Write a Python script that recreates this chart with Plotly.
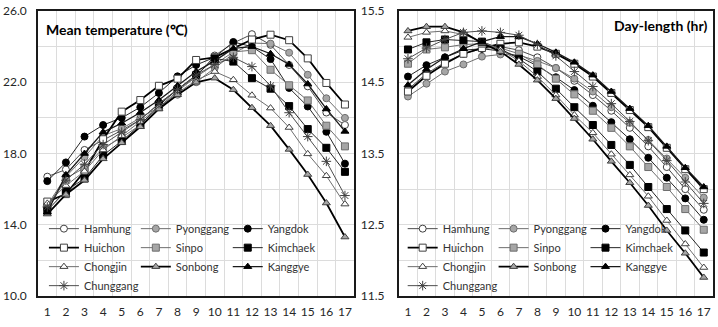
import plotly.graph_objects as go

# ---------------- data ----------------
categories = list(range(1, 17 + 1))
sites = ["Hamhung", "Pyonggang", "Yangdok", "Huichon", "Sinpo", "Kimchaek",
         "Chongjin", "Sonbong", "Kanggye", "Chunggang"]

# Mean temperature (°C)
temp_hamhung   = [16.7, 17.1, 18.2, 18.75, 19.3, 19.9, 20.8, 21.6, 22.3, 23.5, 24.2, 24.7, 24.1, 22.97, 21.77, 20.3, 19.6]
temp_pyonggang = [15.1, 16.7, 17.8, 19.0, 19.4, 20.0, 20.6, 21.3, 22.0, 22.8, 23.6, 24.2, 24.17, 23.66, 22.42, 21.1, 20.0]
temp_yangdok   = [16.45, 17.5, 18.95, 19.6, 20.0, 20.6, 21.4, 22.33, 22.97, 23.4, 24.26, 24.0, 23.3, 21.68, 20.64, 19.22, 17.43]
temp_huichon   = [15.3, 15.72, 17.0, 18.8, 20.35, 21.0, 21.8, 22.2, 23.25, 23.4, 23.9, 24.4, 24.67, 24.36, 23.34, 21.96, 20.75]
temp_sinpo     = [15.0, 16.6, 17.2, 18.3, 18.9, 19.6, 20.6, 21.5, 22.3, 23.0, 23.7, 23.8, 22.7, 21.83, 20.98, 19.56, 18.4]
temp_kimchaek  = [14.8, 15.9, 16.6, 17.9, 18.7, 19.6, 20.7, 21.6, 22.4, 23.34, 23.16, 22.23, 21.64, 20.66, 19.37, 18.32, 16.97]
temp_chongjin  = [15.2, 16.2, 17.0, 18.2, 19.0, 19.8, 20.6, 21.4, 22.1, 22.6, 22.14, 21.27, 20.55, 19.46, 17.98, 16.75, 15.16]
temp_sonbong   = [14.6, 15.7, 16.5, 17.7, 18.6, 19.5, 20.5, 21.3, 22.0, 22.23, 21.58, 20.57, 19.56, 18.23, 16.82, 15.22, 13.31]
temp_kanggye   = [14.7, 16.8, 18.0, 19.2, 19.7, 20.3, 21.0, 21.8, 22.6, 23.2, 23.9, 24.0, 23.6, 23.0, 21.9, 20.5, 19.24]
temp_chunggang = [15.0, 16.5, 17.4, 18.5, 19.2, 19.9, 20.8, 21.6, 22.4, 23.0, 23.4, 22.88, 21.8, 20.29, 18.95, 17.56, 15.64]

# Day-length (hr)
day_hamhung   = [14.40, 14.62, 14.78, 14.90, 14.97, 15.00, 14.95, 14.85, 14.70, 14.52, 14.32, 14.10, 13.86, 13.60, 13.31, 13.00, 12.71]
day_pyonggang = [14.30, 14.48, 14.65, 14.75, 14.86, 14.89, 14.88, 14.80, 14.70, 14.55, 14.37, 14.15, 13.93, 13.69, 13.43, 13.16, 12.88]
day_yangdok   = [14.58, 14.74, 14.85, 14.95, 14.97, 14.94, 14.86, 14.73, 14.57, 14.39, 14.17, 13.94, 13.70, 13.44, 13.16, 12.87, 12.57]
day_huichon   = [14.37, 14.59, 14.76, 14.90, 14.98, 15.04, 15.06, 15.00, 14.90, 14.76, 14.58, 14.35, 14.11, 13.87, 13.58, 13.28, 13.00]
day_sinpo     = [14.76, 14.96, 14.99, 15.03, 15.04, 14.98, 14.90, 14.75, 14.55, 14.33, 14.10, 13.86, 13.60, 13.31, 13.03, 12.72, 12.43]
day_kimchaek  = [14.96, 15.06, 15.10, 15.09, 15.07, 14.97, 14.83, 14.65, 14.41, 14.15, 13.90, 13.62, 13.34, 13.03, 12.72, 12.42, 12.11]
day_chongjin  = [15.13, 15.20, 15.22, 15.17, 15.07, 14.96, 14.80, 14.58, 14.32, 14.04, 13.79, 13.49, 13.20, 12.90, 12.56, 12.23, 11.90]
day_sonbong   = [15.22, 15.28, 15.28, 15.20, 15.05, 14.93, 14.75, 14.53, 14.27, 13.99, 13.70, 13.39, 13.09, 12.77, 12.42, 12.10, 11.76]
day_kanggye   = [14.46, 14.68, 14.85, 14.97, 15.07, 15.14, 15.14, 15.04, 14.92, 14.78, 14.60, 14.37, 14.13, 13.89, 13.60, 13.30, 13.03]
day_chunggang = [14.83, 14.98, 15.10, 15.20, 15.22, 15.20, 15.16, 15.03, 14.87, 14.65, 14.44, 14.20, 13.95, 13.68, 13.40, 13.10, 12.80]

temp_ticks = [10, 14, 18, 22, 26]
day_ticks = [11.5, 12.5, 13.5, 14.5, 15.5]

temp_series = [temp_hamhung, temp_pyonggang, temp_yangdok, temp_huichon, temp_sinpo,
               temp_kimchaek, temp_chongjin, temp_sonbong, temp_kanggye, temp_chunggang]
day_series = [day_hamhung, day_pyonggang, day_yangdok, day_huichon, day_sinpo,
              day_kimchaek, day_chongjin, day_sonbong, day_kanggye, day_chunggang]

# ---------------- styles ----------------
W, H = 718, 327
ML, MR, MT, MB = 32, 3, 7, 31
PW, PH = W - ML - MR, H - MT - MB

def px_x(p):
    return (p - ML) / PW

def px_y(p):
    return 1 - (p - MT) / PH

GRAY = "#A6A6A6"
DARK = "#404040"
styles = {
    "Hamhung":   dict(symbol="circle",        fill="white", mline=DARK,      lcol="#4D4D4D", lw=1.0),
    "Pyonggang": dict(symbol="circle",        fill=GRAY,    mline="#6E6E6E", lcol="#6E6E6E", lw=1.0),
    "Yangdok":   dict(symbol="circle",        fill="black", mline="black",   lcol="#262626", lw=1.0),
    "Huichon":   dict(symbol="square",        fill="white", mline=DARK,      lcol="#000000", lw=1.8),
    "Sinpo":     dict(symbol="square",        fill=GRAY,    mline="#6E6E6E", lcol="#6E6E6E", lw=1.0),
    "Kimchaek":  dict(symbol="square",        fill="black", mline="black",   lcol="#262626", lw=1.0),
    "Chongjin":  dict(symbol="triangle-up",   fill="white", mline=DARK,      lcol="#6E6E6E", lw=1.0),
    "Sonbong":   dict(symbol="triangle-up",   fill=GRAY,    mline=DARK,      lcol="#000000", lw=1.8),
    "Kanggye":   dict(symbol="triangle-up",   fill="black", mline="black",   lcol="#1A1A1A", lw=1.3),
    "Chunggang": dict(symbol="asterisk-open", fill=DARK,    mline=DARK,      lcol="#4D4D4D", lw=1.0),
}
# legend columns (3 per chart)
col_of = {"Hamhung": 0, "Huichon": 0, "Chongjin": 0, "Chunggang": 0,
          "Pyonggang": 1, "Sinpo": 1, "Sonbong": 1,
          "Yangdok": 2, "Kimchaek": 2, "Kanggye": 2}

fig = go.Figure()

def add_set(series, xa, ya, legend_base):
    for name, vals in zip(sites, series):
        s = styles[name]
        leg = legend_base + col_of[name]
        fig.add_trace(go.Scatter(
            x=categories, y=vals, name=name, mode="lines+markers",
            xaxis=xa, yaxis=ya,
            legend="legend" if leg == 1 else f"legend{leg}",
            line=dict(color=s["lcol"], width=s["lw"]),
            marker=dict(symbol=s["symbol"], size=8 if s["symbol"] == "asterisk-open" else 7,
                        color=s["fill"], line=dict(color=s["mline"], width=1)),
        ))

add_set(temp_series, "x", "y", 1)
add_set(day_series, "x2", "y2", 4)

FONT = "Lato"
axis_common = dict(showline=True, mirror=True, linecolor="#1A1A1A", linewidth=1.6,
                   zeroline=False, ticks="", ticklabeloverflow="allow",
                   tickfont=dict(family=FONT, size=12, color="#262626"))
xdef = dict(range=[0.5, 17.5], tickmode="array", tickvals=categories,
            ticktext=[str(c) for c in categories], showgrid=False,
            minor=dict(tickmode="array", tickvals=[c - 0.5 for c in categories] + [17.5],
                       showgrid=True, gridcolor="#DCDCDC", gridwidth=1),
            ticklabelstandoff=4, **axis_common)

left_dom = [0, px_x(352)]
right_dom = [px_x(397), 1]

fig.update_layout(
    width=W, height=H,
    margin=dict(l=ML, r=MR, t=MT, b=MB),
    paper_bgcolor="white", plot_bgcolor="white",
    font=dict(family=FONT, size=12, color="#262626"),
    xaxis=dict(domain=left_dom, anchor="y", **xdef),
    xaxis2=dict(domain=right_dom, anchor="y2", **xdef),
    yaxis=dict(range=[10, 26], tickmode="array", tickvals=temp_ticks,
               tickformat=".1f", showgrid=True, gridcolor="#DCDCDC", gridwidth=1,
               minor=dict(dtick=2, tick0=10, showgrid=True, gridcolor="#DCDCDC", gridwidth=1),
               ticklabelstandoff=7, anchor="x", **axis_common),
    yaxis2=dict(range=[11.5, 15.5], tickmode="array", tickvals=day_ticks,
                tickformat=".1f", showgrid=True, gridcolor="#DCDCDC", gridwidth=1,
                minor=dict(dtick=0.5, tick0=11.5, showgrid=True, gridcolor="#DCDCDC", gridwidth=1),
                ticklabelstandoff=10, anchor="x2", **axis_common),
    showlegend=True,
)

leg_font = dict(family=FONT, size=11, color="#333333")
leg_top = px_y(213)
left_cols = [38, 131, 224]
right_cols = [401, 493, 586]
for i, xp in enumerate(left_cols + right_cols):
    key = "legend" if i == 0 else f"legend{i + 1}"
    fig.update_layout({key: dict(x=px_x(xp), y=leg_top, xanchor="left", yanchor="top",
                                 bgcolor="rgba(0,0,0,0)", borderwidth=0, font=leg_font,
                                 orientation="v", itemwidth=30, traceorder="normal")})

fig.add_annotation(text="<b>Mean temperature (℃)</b>", xref="paper", yref="paper",
                   x=px_x(38), y=px_y(26), xanchor="left", yanchor="middle",
                   showarrow=False, font=dict(family=FONT, size=14, color="black"))
fig.add_annotation(text="<b>Day-length (hr)</b>", xref="paper", yref="paper",
                   x=px_x(711), y=px_y(22), xanchor="right", yanchor="middle",
                   showarrow=False, font=dict(family=FONT, size=14, color="black"))

fig.write_html("out.html")
